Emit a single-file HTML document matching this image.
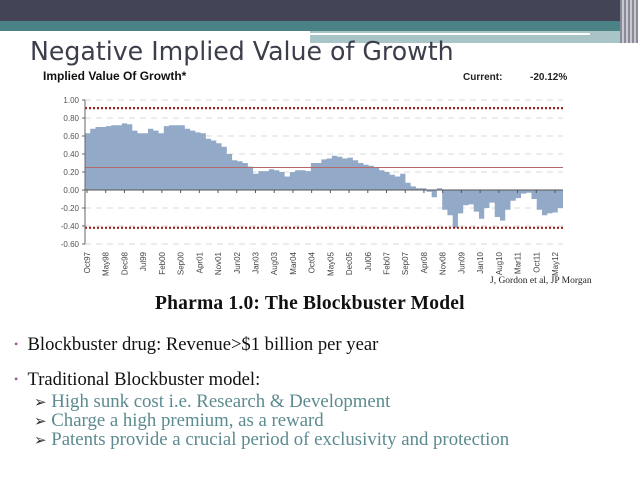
<!DOCTYPE html>
<html><head><meta charset="utf-8"><style>
body{margin:0;width:638px;height:479px;overflow:hidden;background:#fff;font-family:"Liberation Serif",serif;position:relative}
.abs{position:absolute;white-space:nowrap}
</style></head><body>
<div class="abs" style="left:0;top:0;width:638px;height:21px;background:#434455"></div>
<div class="abs" style="left:0;top:21px;width:638px;height:10px;background:#4a8285"></div>
<div class="abs" style="left:310px;top:31px;width:328px;height:12px;background:#a8c4c6"></div>
<div class="abs" style="left:0;top:33px;width:590px;height:2px;background:#fff"></div>
<div class="abs" style="left:620px;top:0;width:18px;height:43px;background:repeating-linear-gradient(90deg,#8a8a98 0 2px,#c8c8d0 2px 4px)"></div>
<div class="abs" style="left:30px;top:37px;font-family:'DejaVu Sans',sans-serif;font-size:26px;color:#3d3e4c;transform:scaleX(0.97);transform-origin:0 0">Negative Implied Value of Growth</div>

<svg class="abs" style="left:0;top:0" width="638" height="300" id="chart"></svg>

<div class="abs" style="left:490px;top:276px;font-size:9.5px;color:#222">J, Gordon et al, JP Morgan</div>
<div class="abs" style="left:155px;top:293px;font-size:19.5px;font-weight:bold;color:#111;letter-spacing:0.2px">Pharma 1.0: The Blockbuster Model</div>
<div class="abs" style="left:14px;top:334px;font-size:18.6px;color:#111"><span style="color:#9a5a9a;font-size:12px;position:relative;top:-2px">•</span>&nbsp;&nbsp;Blockbuster drug: Revenue&gt;$1 billion per year</div>
<div class="abs" style="left:14px;top:369px;font-size:18.6px;color:#111"><span style="color:#9a5a9a;font-size:12px;position:relative;top:-2px">•</span>&nbsp;&nbsp;Traditional Blockbuster model:</div>
<div class="abs" style="left:34px;top:391px;font-size:18.8px;color:#5b8b90"><span style="color:#333;font-size:15px">➢</span> High sunk cost i.e. Research &amp; Development</div>
<div class="abs" style="left:34px;top:410px;font-size:18.8px;color:#5b8b90"><span style="color:#333;font-size:15px">➢</span> Charge a high premium, as a reward</div>
<div class="abs" style="left:34px;top:429px;font-size:18.8px;color:#5b8b90"><span style="color:#333;font-size:15px">➢</span> Patents provide a crucial period of exclusivity and protection</div>

<script>
const values=[0.63,0.68,0.70,0.70,0.71,0.72,0.72,0.74,0.73,0.66,0.63,0.63,0.68,0.66,0.63,0.71,0.72,0.72,0.72,0.68,0.66,0.64,0.63,0.57,0.55,0.52,0.48,0.40,0.33,0.32,0.30,0.26,0.18,0.21,0.21,0.23,0.22,0.20,0.15,0.20,0.22,0.22,0.21,0.30,0.30,0.34,0.35,0.38,0.37,0.35,0.36,0.33,0.30,0.28,0.27,0.25,0.22,0.20,0.17,0.15,0.18,0.08,0.04,0.02,0.02,-0.02,-0.08,0.02,-0.22,-0.28,-0.42,-0.26,-0.17,-0.16,-0.24,-0.32,-0.20,-0.14,-0.30,-0.34,-0.22,-0.12,-0.09,-0.04,-0.03,-0.10,-0.22,-0.28,-0.26,-0.25,-0.20];
const yTicks=[1.00,0.80,0.60,0.40,0.20,0.00,-0.20,-0.40,-0.60];
const xLabels=["Oct97","May98","Dec98","Jul99","Feb00","Sep00","Apr01","Nov01","Jun02","Jan03","Aug03","Mar04","Oct04","May05","Dec05","Jul06","Feb07","Sep07","Apr08","Nov08","Jun09","Jan10","Aug10","Mar11","Oct11","May12"];
const meanLine=[0.25];
const bands=[0.91,-0.42];
const X0=85,X1=563,Y0=190,PX=90;
const NS="http://www.w3.org/2000/svg";
const svg=document.getElementById('chart');
function y(v){return Y0-v*PX;}
function xi(i){return X0+i*(X1-X0)/values.length;}
function xl(i){return 87+i*(555-87)/(xLabels.length-1);}
function mk(t,a){const e=document.createElementNS(NS,t);for(const k in a)e.setAttribute(k,a[k]);svg.appendChild(e);return e;}
let t=mk('text',{x:43,y:80,'font-family':'Liberation Sans, sans-serif','font-size':12,'font-weight':'bold',fill:'#111'});t.textContent='Implied Value Of Growth*';

t=mk('text',{x:463,y:80,'font-family':'Liberation Sans, sans-serif','font-size':10,'font-weight':'bold',fill:'#222'});t.textContent='Current:';

t=mk('text',{x:530,y:80,'font-family':'Liberation Sans, sans-serif','font-size':10,'font-weight':'bold',fill:'#222'});t.textContent='-20.12%';

yTicks.forEach(v=>{
  const g=mk('line',{x1:X0,x2:X1,y1:y(v),y2:y(v),stroke:'#d8d8d8','stroke-dasharray':'6,5'});
  
  const l=mk('text',{x:79,y:y(v)+3,'text-anchor':'end','font-family':'Liberation Sans, sans-serif','font-size':8,fill:'#555'});l.textContent=v.toFixed(2);
  
  mk('line',{x1:X0-3,x2:X0,y1:y(v),y2:y(v),stroke:'#666'});
});
let d='M'+X0+','+y(0);
values.forEach((v,i)=>{d+=' L'+xi(i)+','+y(v)+' L'+xi(i+1)+','+y(v);});
d+=' L'+X1+','+y(0)+'Z';
let a=mk('path',{d:d,fill:'#93a9c8'});

let m=mk('line',{x1:X0,x2:X1,y1:y(meanLine[0]),y2:y(meanLine[0]),stroke:'#b46a6a','stroke-width':1});

bands.forEach(b=>{const e=mk('line',{x1:X0,x2:X1,y1:y(b),y2:y(b),stroke:'#a02020','stroke-width':2.2,'stroke-dasharray':'2,2'});
});
let ax=mk('line',{x1:X0,x2:X0,y1:y(1),y2:y(-0.6),stroke:'#666'});

let zx=mk('line',{x1:X0,x2:X1,y1:y(0),y2:y(0),stroke:'#555'});

xLabels.forEach((s,i)=>{
  const x=xl(i);
  mk('line',{x1:x,x2:x,y1:y(0),y2:y(0)+3,stroke:'#555'});
  const l=mk('text',{transform:'translate('+(x+3)+',252) rotate(-90)','text-anchor':'end','font-family':'Liberation Sans, sans-serif','font-size':8,fill:'#444'});
  l.textContent=s;
  
});
</script>
</body></html>
